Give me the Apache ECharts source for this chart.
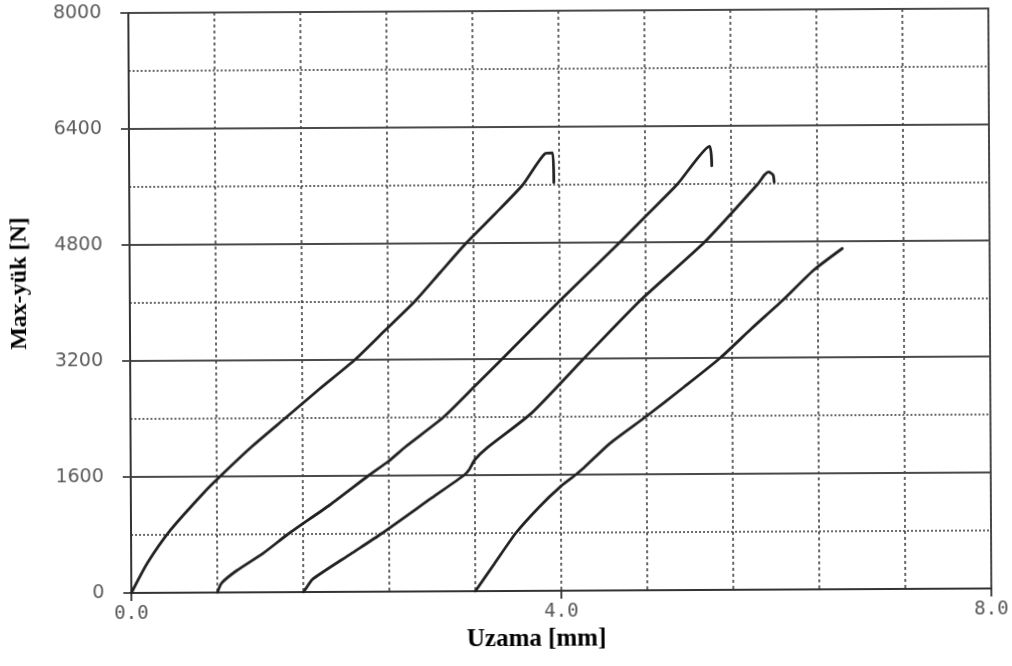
<!DOCTYPE html>
<html>
<head>
<meta charset="utf-8">
<style>
  html, body { margin: 0; padding: 0; background: #fff; overflow: hidden; }
  /* the printed sheet sits a little askew on the scanner bed */
  #chart { width: 1012px; height: 666px; transform: rotate(-0.3deg); transform-origin: 50% 50%; }
</style>
<script src="https://cdn.jsdelivr.net/npm/echarts@6/dist/echarts.min.js"></script>
</head>
<body>
<div id="chart"></div>
<script>
// Load–elongation records of four specimens: [elongation mm, load N]
const specimen1 = [
  [0.00, 0], [0.15, 410], [0.37, 870], [0.68, 1380], [0.83, 1600], [1.12, 2000],
  [1.44, 2400], [1.76, 2800], [2.09, 3200], [2.37, 3600], [2.65, 4000], [2.89, 4400],
  [3.13, 4800], [3.40, 5200], [3.66, 5600], [3.87, 6030], [3.94, 6040], [3.95, 5630]
];
const specimen2 = [
  [0.80, 0], [0.84, 130], [0.98, 300], [1.23, 540], [1.46, 800], [1.85, 1200],
  [2.21, 1600], [2.40, 1800], [2.56, 2000], [2.91, 2400], [3.20, 2820], [3.46, 3200],
  [3.73, 3600], [4.00, 4000], [4.28, 4400], [4.56, 4800], [4.83, 5200], [5.10, 5600],
  [5.40, 6120], [5.42, 5850]
];
const specimen3 = [
  [1.60, 0], [1.62, 40], [1.69, 180], [2.04, 520], [2.33, 800], [2.80, 1290],
  [3.10, 1600], [3.15, 1680], [3.20, 1810], [3.32, 1980], [3.73, 2450], [4.22, 3200],
  [4.75, 4000], [5.35, 4800], [5.85, 5600], [5.91, 5720], [5.95, 5760], [5.99, 5720],
  [6.00, 5620]
];
const specimen4 = [
  [3.20, 0], [3.38, 380], [3.58, 800], [3.80, 1160], [4.00, 1440], [4.14, 1600],
  [4.22, 1700], [4.46, 2030], [4.80, 2400], [5.15, 2800], [5.49, 3200], [5.78, 3600],
  [6.08, 4000], [6.36, 4400], [6.63, 4700]
];
const specimens = [specimen1, specimen2, specimen3, specimen4];

const xTitle = 'Uzama [mm]';
const yTitle = 'Max-yük [N]';

const ink = '#222';
const gridInk = '#444';

const chart = echarts.init(document.getElementById('chart'), null, { renderer: 'canvas' });

chart.setOption({
  backgroundColor: '#fff',
  animation: false,
  grid: {
    left: 127, right: 22, top: 11, bottom: 75,
    show: true, borderColor: '#3a3a3a', borderWidth: 1.8, backgroundColor: 'transparent'
  },
  xAxis: {
    type: 'value', min: 0, max: 8, interval: 4,
    name: xTitle, nameLocation: 'middle', nameGap: 32,
    nameTextStyle: {
      fontFamily: 'Liberation Serif', fontWeight: 'bold', fontSize: 25, color: '#000',
      padding: [0, 50, 0, 0]
    },
    axisLine: { show: true, onZero: false, lineStyle: { color: '#333', width: 2 } },
    axisTick: { show: true, length: 8, lineStyle: { color: '#333', width: 1.8 } },
    minorTick: { show: false, splitNumber: 5 },
    axisLabel: {
      formatter: v => v.toFixed(1),
      fontFamily: 'DejaVu Sans Mono', fontSize: 19, color: '#555', margin: 12
    },
    splitLine: { show: true, lineStyle: { color: gridInk, width: 1.6, type: [3, 3] } },
    minorSplitLine: { show: true, lineStyle: { color: gridInk, width: 1.6, type: [3, 3] } }
  },
  yAxis: {
    type: 'value', min: 0, max: 8000, interval: 1600,
    name: yTitle, nameLocation: 'middle', nameGap: 98, nameRotate: 90,
    nameTextStyle: {
      fontFamily: 'Liberation Serif', fontWeight: 'bold', fontSize: 24, color: '#000',
      padding: [0, 0, 0, 40]
    },
    axisLine: { show: true, onZero: false, lineStyle: { color: '#333', width: 2, type: [5, 1] } },
    axisTick: { show: true, length: 8, lineStyle: { color: '#444', width: 1.8 } },
    minorTick: { show: false, splitNumber: 2 },
    axisLabel: {
      formatter: v => String(v),
      fontFamily: 'DejaVu Sans', fontSize: 19, color: '#5a5a5a', margin: 27
    },
    splitLine: { show: true, lineStyle: { color: '#4a4a4a', width: 2, type: 'solid' } },
    minorSplitLine: { show: true, lineStyle: { color: gridInk, width: 1.6, type: [2, 2] } }
  },
  series: specimens.map((data, i) => ({
    name: 'Numune ' + (i + 1),
    type: 'line',
    data: data,
    showSymbol: false,
    symbol: 'none',
    smooth: 0.2,
    lineStyle: { color: ink, width: 2.8, cap: 'round', join: 'round' },
    z: 3
  }))
});
</script>
</body>
</html>
